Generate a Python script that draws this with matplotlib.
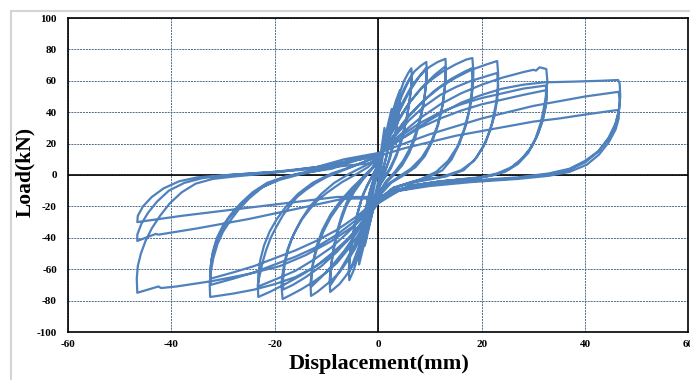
import numpy as np
import matplotlib.pyplot as plt
from matplotlib.patches import Rectangle

plt.rcParams['axes.unicode_minus'] = False
plt.rcParams['font.family'] = ['Liberation Serif', 'DejaVu Serif']

# hysteresis loops, (displacement mm, load kN)
loop_01 = [(0,0),(0.5,14),(1.2,30),(1.3,22),(0.7,8),(0,-4),(-0.6,-13),(-1.2,-24),(-1.3,-17),(-0.7,-6),(0,2)]
loop_02 = [(0,2),(0.9,17),(1.8,31),(2.6,42),(2.6,35),(2.2,24),(1.6,12),(0.8,2),(0,-9),(-1.0,-22),(-1.9,-35),
           (-2.6,-45),(-2.6,-37),(-2.2,-26),(-1.6,-14),(-0.8,-3),(0,5)]
loop_03 = [(0,5),(1.0,19),(2.0,31),(2.6,39),(2.5,32),(2.1,22),(1.5,11),(0.7,1),(-0.3,-10),(-1.3,-24),(-2.1,-34),
           (-2.6,-41),(-2.5,-33),(-2.1,-23),(-1.4,-12),(-0.6,-2),(0,5)]
loop_04 = [(0,5),(1.2,21),(2.4,36),(3.4,47),(4.2,54),(4.2,47),(3.9,38),(3.4,28),(2.7,17),(1.9,8),(1.0,0),
           (-0.4,-14),(-1.6,-30),(-2.8,-45),(-3.7,-57),(-3.7,-49),(-3.3,-39),(-2.7,-28),(-2.0,-16),(-1.2,-6),
           (-0.4,2),(0,7)]
loop_05 = [(0,7),(1.3,22),(2.6,36),(3.5,45),(4.1,50),(4.1,43),(3.7,33),(3.1,22),(2.3,11),(1.4,3),(0.5,-4),
           (-0.6,-16),(-1.8,-31),(-2.9,-43),(-3.7,-52),(-3.6,-44),(-3.1,-33),(-2.4,-21),(-1.6,-10),(-0.7,-1),(0,7)]
loop_06 = [(0,7),(1,18),(2,30),(3,41),(4,51),(5,60),(5.8,65),(6.4,68),(6.5,62),(6.3,54),(5.9,44),(5.3,33),
           (4.5,22),(3.5,12),(2.4,4),(1.2,-2),(0,-8),(-1,-19),(-2,-31),(-3,-43),(-4,-53),(-4.8,-61),(-5.6,-67),
           (-5.7,-60),(-5.4,-50),(-4.9,-39),(-4.2,-27),(-3.3,-16),(-2.2,-7),(-1,0),(0,6)]
loop_07 = [(0,6),(1.5,22),(3,37),(4.5,50),(5.6,58),(6.4,63),(6.4,58),(6.1,48),(5.5,36),(4.6,24),(3.5,13),
           (2.2,4),(0.9,-3),(0,-8),(-1,-18),(-2,-29),(-3,-39),(-4,-48),(-4.9,-56),(-5.6,-62),(-5.6,-55),
           (-5.3,-45),(-4.7,-34),(-3.9,-23),(-2.9,-12),(-1.7,-4),(-0.6,3),(0,8)]
loop_08 = [(0,8),(1,18),(2,28),(3,38),(4,47),(5,55),(6,61),(7,66),(8.2,69.5),(9.3,72),(9.4,65),(9.2,56),
           (8.8,46),(8.1,35),(7.2,24),(6,14),(4.6,6),(3,0),(1.5,-5),(0,-12),(-1,-22),(-2,-33),(-3,-43),(-4,-51),
           (-5,-58),(-6.2,-64),(-7.5,-69.5),(-9.3,-74.5),(-9.4,-67),(-9.1,-57),(-8.6,-46),(-7.9,-35),(-7,-25),
           (-5.8,-15),(-4.3,-7),(-2.6,0),(-1,5),(0,9)]
loop_09 = [(0,9),(2,25),(4,40),(6,53),(7.8,62),(9.2,68),(9.3,61),(9.0,51),(8.4,40),(7.5,29),(6.3,18),(4.8,9),
           (3.2,2),(1.5,-4),(0,-12),(-2,-27),(-4,-41),(-6,-53),(-7.8,-63),(-9.2,-70),(-9.2,-63),(-8.9,-53),
           (-8.3,-42),(-7.4,-31),(-6.2,-20),(-4.7,-11),(-3,-3),(-1.4,3),(0,9)]
loop_10 = [(0,9),(1,18),(2,27),(3,35),(4,42),(5,48),(6,54),(7,59),(8,63),(9,66.5),(10,69),(11.5,72),(13,74),
           (13.1,66),(12.9,56),(12.4,44),(11.6,32),(10.4,21),(9,12),(7.2,5),(5,0),(2.5,-5),(0,-14),(-1.5,-26),
           (-3,-37),(-4.5,-47),(-6,-55),(-7.5,-62),(-9,-67),(-10.5,-71),(-11.8,-74.5),(-13,-77),(-13.1,-69),
           (-12.8,-60),(-12.3,-52),(-11.6,-44),(-10.6,-36),(-9.2,-27),(-7.5,-19),(-5.5,-11),(-3.5,-4),
           (-1.5,3),(0,10)]
loop_11 = [(0,10),(2,23),(4,35),(6,46),(8.5,56),(11,64),(12.9,69),(13,62),(12.8,53),(12.3,42),(11.4,31),
           (10.1,20),(8.4,11),(6.3,4),(4,-1),(1.8,-6),(0,-13),(-2,-25),(-4,-36),(-6.5,-48),(-9,-58),(-11,-65),
           (-12.9,-71),(-12.9,-64),(-12.6,-55),(-11.9,-45),(-10.8,-35),(-9.2,-25),(-7.2,-16),(-5,-8),(-2.8,-1),
           (-1,5),(0,10)]
loop_12 = [(0,10),(2,24),(4,36),(6,46),(8,54),(10,60),(12.5,66),(15,70.5),(17,73.5),(18.2,74.5),(18.4,66),
           (18.3,56),(17.8,44),(17,32),(15.7,20),(14.2,10),(12.4,3),(10,-1),(6,-5),(2.5,-9),(0,-16),(-2,-28),
           (-4,-39),(-6,-48),(-8,-56),(-10,-62),(-12.5,-68),(-15,-73),(-17,-76.5),(-18.5,-79),(-18.7,-71),
           (-18.6,-65),(-18.2,-57),(-17.6,-48),(-16.8,-41),(-15.9,-35),(-14.7,-28),(-13.3,-22),(-11.7,-16),
           (-10,-11.5),(-7,-4.5),(-4,1),(-2,5),(0,11)]
loop_13 = [(0,11),(2.5,23),(5,34),(8,45),(11,54),(14,61),(16.5,65.5),(18.1,68),(18.2,60),(18,50),(17.5,40),
           (16.6,29),(15.3,18),(13.5,9),(11.2,2),(8,-3),(4,-7),(0,-15),(-2.5,-27),(-5,-38),(-8,-49),(-11,-58),
           (-14,-65),(-16.5,-70),(-18.4,-73),(-18.4,-66),(-18.1,-57),(-17.4,-47),(-16.4,-38),(-15,-29),
           (-13.2,-20),(-11,-12),(-8.5,-5),(-5.5,1),(-2.5,6),(0,11)]
loop_14 = [(0,11),(3,25),(6,38),(9,48),(12,56),(15,62),(18,67),(21,70.5),(23,72.6),(23.2,64),(23.1,55),
           (22.8,46),(22,33),(20.8,21),(19,11),(16.5,3),(13,-1),(8,-4),(3,-8),(0,-17),(-3,-30),(-6,-41),
           (-9,-50),(-12,-58),(-15,-64),(-18,-69.5),(-21,-74.5),(-23.2,-77.7),(-23.3,-70),(-23,-65),(-22.4,-56),
           (-21.7,-48),(-20.8,-40),(-19.7,-33),(-18.5,-26),(-17.2,-20),(-15.7,-14),(-14,-9.5),(-12,-5),
           (-10,-1.3),(-6,4),(-3,8),(0,12)]
loop_15 = [(0,12),(3,24),(6,35),(9,44),(12,51),(15,56),(18,60),(21,63),(23,65),(23.2,57),(23,48),(22.5,38),
           (21.6,28),(20.3,18),(18.5,9),(16,3),(12.5,-1),(7,-4),(3,-8),(0,-16),(-3,-27),(-6,-37),(-9,-46),
           (-12.5,-54),(-16,-61),(-19.5,-66),(-23.2,-71),(-23.2,-63),(-22.8,-54),(-22.1,-45),(-21,-36),
           (-19.6,-28),(-17.8,-20),(-15.5,-12),(-12.7,-5),(-9,1),(-4.5,6),(0,12)]
loop_16 = [(0,12),(4,25),(8,36),(12,45),(16,52),(20,57.5),(24,62),(28,65.5),(30,67),(30.5,66.5),(31.2,68.6),
           (32.5,67.5),(32.7,60),(32.5,52),(32.1,44),(31.5,34),(30.4,23),(29,14),(27,7),(24.5,2),(21,-1),
           (15,-3),(8,-6),(3,-10),(0,-18),(-3,-31),(-6,-42),(-9,-51),(-12,-58),(-16,-65),(-20,-69.5),
           (-24,-73),(-28,-75.5),(-32.5,-77.7),(-32.6,-70),(-32.4,-62),(-31.9,-53),(-31.1,-44),(-30,-36),
           (-28.6,-29),(-27,-22),(-25,-15),(-22.5,-8),(-19.5,-3),(-16,0.5),(-11,4),(-6,9),(0,13)]
loop_17 = [(0,13),(4,24),(8,33),(12,40),(16,45),(20,49),(24,52),(28,55),(32.4,57),(32.6,51),(32.4,44),
           (31.9,36),(31,27),(29.7,18),(28,11),(25.8,5),(23,1),(19,-2),(12,-4),(6,-7),(0,-16),(-4,-28),(-8,-38),
           (-12,-46),(-16,-52),(-20,-57),(-24,-62),(-28,-66),(-32.4,-70),(-32.5,-62),(-32.2,-53),(-31.5,-44),
           (-30.4,-36),(-29,-28),(-27.2,-21),(-25,-14),(-22.3,-7.5),(-19,-3),(-15,0.5),(-10,4),(-5,9),(0,13)]
loop_18 = [(0,13),(4,22),(8,30),(12,36),(16,41),(20,45),(24,48),(28,51),(32.4,54),(32.5,48),(32.2,41),
           (31.6,33),(30.6,24),(29.2,16),(27.4,9),(25.2,3.5),(22.5,0),(18,-2.5),(12,-4),(6,-7),(0,-15),
           (-4,-26),(-8,-35),(-12,-42),(-16,-48),(-20,-53),(-24,-58),(-28,-62),(-32.4,-66),(-32.4,-58),
           (-32,-49),(-31.2,-40),(-30,-32),(-28.5,-25),(-26.6,-18),(-24.3,-11),(-21.5,-5),(-18,-1),(-14,1.5),
           (-9,4),(-4.5,9),(0,13)]
loop_19 = [(0,13),(4,22),(8,31),(12,39),(16,46),(20,51),(24,55),(28,57.5),(32,59),(38,59.5),(43,60),
           (46.4,60.5),(46.7,58),(46.8,50),(46.6,42),(45.9,33),(44.6,24),(42.6,15),(40,8),(37,3.5),(33,0.5),
           (27,-2),(18,-4),(10,-6),(4,-10),(0,-18),(-2,-24),(-5,-33),(-9,-42),(-14,-51),(-19,-58),(-25,-63),
           (-32,-67.5),(-39,-71),(-42,-72),(-42.5,-71),(-46.6,-75),(-46.7,-66),(-46.5,-58),(-45.9,-50),
           (-45,-42),(-43.8,-34),(-42.2,-26),(-40.3,-18),(-38,-11),(-35.3,-5.5),(-32,-2.5),(-28,-1),(-20,1.5),
           (-12,5),(-6.6,10),(0,14)]
loop_20 = [(0,14),(5,20),(10,26),(15,31),(20,36),(25,40),(30,44),(35,47),(40,50),(46.5,53),(46.7,47),
           (46.5,40),(45.8,31),(44.5,23),(42.5,15),(40,9),(37,4),(33,1),(27,-1.5),(18,-3.5),(10,-6),(4,-9),
           (0,-15),(-6.6,-15),(-15,-21),(-25,-28),(-35,-34),(-42.5,-38),(-43,-37.5),(-46.6,-42),(-46.6,-38),
           (-45.8,-31),(-44.5,-24),(-42.8,-17),(-40.5,-10),(-37.5,-5),(-34,-2),(-29,0),(-20,2),(-12,5),(0,12)]
loop_21 = [(0,12),(5,17),(10,21),(15,25),(20,28),(25,31),(30,34),(35,36),(40,38.5),(46.5,41.5),(46.5,36),
           (45.9,29),(44.6,21),(42.7,13),(40.3,6.5),(37,2),(33,-0.5),(27,-2.5),(18,-4.5),(10,-7),(4,-10),
           (0,-14),(-8,-14),(-18,-18),(-28,-22),(-38,-26),(-46.6,-30),(-46.5,-26),(-45.5,-20),(-43.8,-14),
           (-41.5,-8.5),(-38.5,-4),(-35,-1.5),(-29,0),(-20,2),(-12,4),(0,8)]

loops = [loop_01, loop_02, loop_03, loop_04, loop_05, loop_06, loop_07, loop_08, loop_09, loop_10, loop_11,
         loop_12, loop_13, loop_14, loop_15, loop_16, loop_17, loop_18, loop_19, loop_20, loop_21]

x_ticks = [-60, -40, -20, 0, 20, 40, 60]
y_ticks = [-100, -80, -60, -40, -20, 0, 20, 40, 60, 80, 100]

pts = np.array([p for lp in loops for p in lp])
disp, load = pts[:, 0], pts[:, 1]

fig = plt.figure(figsize=(6.9, 3.8), dpi=100)
ax = fig.add_axes([68/690, 48/380, 620.5/690, 314/380])

ax.plot(disp, load, color='#4F81BD', lw=1.6, zorder=3, solid_joinstyle='round')
ax.axhline(0, color='black', lw=1.2, zorder=2)
ax.axvline(0, color='black', lw=1.2, zorder=2)

ax.set_xlim(-60, 60)
ax.set_ylim(-100, 100)
ax.set_xticks(x_ticks)
ax.set_yticks(y_ticks)
ax.set_xticklabels([str(v) for v in x_ticks], fontweight='bold', fontsize=8)
ax.set_yticklabels([str(v) for v in y_ticks], fontweight='bold', fontsize=8)
ax.tick_params(length=0)
ax.tick_params(axis='y', pad=8)
ax.tick_params(axis='x', pad=6)
ax.grid(True, color='#4d6b8c', lw=0.7, ls=(0, (2, 1)), zorder=1)
for s in ax.spines.values():
    s.set_color('black')
    s.set_linewidth(1.2)

fig.text(25/690, 1 - 172/380, 'Load(kN)', rotation=90, ha='center', va='center',
         fontsize=15.5, fontweight='bold')
fig.text(379/690, 1 - 364/380, 'Displacement(mm)', ha='center', va='center',
         fontsize=16, fontweight='bold')

fig.patches.append(Rectangle((11/690, -0.5), 2, 1.5 - 11/380, transform=fig.transFigure,
                             fill=False, edgecolor='#d4d4d4', lw=1.5))

fig.savefig('out.png', dpi=100)
